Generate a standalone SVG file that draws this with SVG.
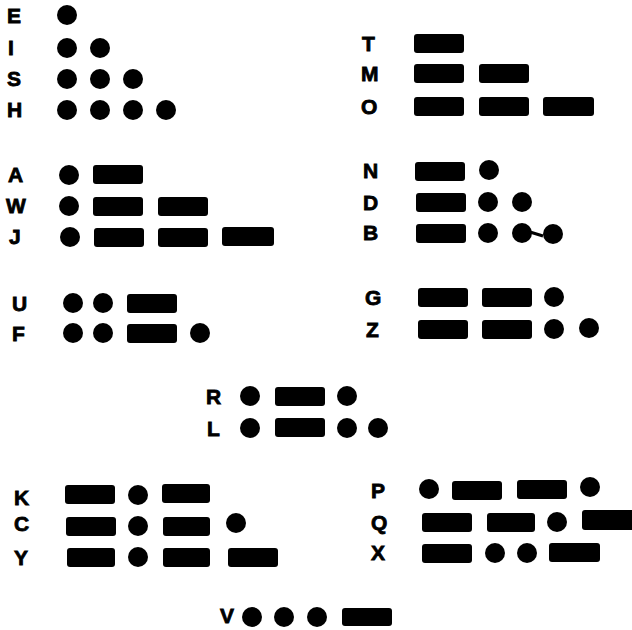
<svg xmlns="http://www.w3.org/2000/svg" width="632" height="630" viewBox="0 0 632 630">
<style>
.lbl{font-family:"Liberation Sans",Arial,sans-serif;font-weight:bold;font-size:21px;fill:#000;stroke:#000;stroke-width:0.8}
</style>
<rect width="632" height="630" fill="#fff"/>
<defs>
<circle id="d" r="10"/>
<rect id="m" width="50" height="19" rx="3"/>
</defs>
<g id="E"><text class="lbl" x="7" y="23">E</text><use href="#d" x="67" y="15"/></g>
<g id="I"><text class="lbl" x="8" y="55">I</text><use href="#d" x="67" y="48"/><use href="#d" x="100" y="48"/></g>
<g id="S"><text class="lbl" x="7" y="86">S</text><use href="#d" x="67" y="79"/><use href="#d" x="100" y="79"/><use href="#d" x="133" y="79"/></g>
<g id="H"><text class="lbl" x="7" y="117">H</text><use href="#d" x="67" y="110"/><use href="#d" x="100" y="110"/><use href="#d" x="133" y="110"/><use href="#d" x="166" y="110"/></g>
<g id="A"><text class="lbl" x="8" y="182">A</text><use href="#d" x="69" y="175"/><use href="#m" x="93" y="165"/></g>
<g id="W"><text class="lbl" x="6" y="213">W</text><use href="#d" x="69" y="206"/><use href="#m" x="93" y="197"/><use href="#m" x="158" y="197"/></g>
<g id="J"><text class="lbl" x="9" y="244">J</text><use href="#d" x="70" y="237"/><use href="#m" x="94" y="228"/><use href="#m" x="158" y="228"/><rect x="222" y="227" width="52" height="19" rx="3"/></g>
<g id="U"><text class="lbl" x="12" y="311">U</text><use href="#d" x="73" y="303"/><use href="#d" x="103" y="303"/><use href="#m" x="127" y="294"/></g>
<g id="F"><text class="lbl" x="12" y="341">F</text><use href="#d" x="73" y="333"/><use href="#d" x="103" y="333"/><use href="#m" x="127" y="324"/><use href="#d" x="200" y="333"/></g>
<g id="T"><text class="lbl" x="362" y="51">T</text><use href="#m" x="414" y="34"/></g>
<g id="M"><text class="lbl" x="361" y="81">M</text><use href="#m" x="414" y="64"/><use href="#m" x="479" y="64"/></g>
<g id="O"><text class="lbl" x="361" y="114">O</text><use href="#m" x="414" y="97"/><use href="#m" x="479" y="97"/><rect x="543" y="97" width="51" height="19" rx="3"/></g>
<g id="N"><text class="lbl" x="363" y="178">N</text><use href="#m" x="415" y="162"/><use href="#d" x="489" y="170"/></g>
<g id="D"><text class="lbl" x="363" y="210">D</text><use href="#m" x="416" y="193"/><use href="#d" x="488" y="202"/><use href="#d" x="522" y="202"/></g>
<g id="B"><text class="lbl" x="363" y="240">B</text><use href="#m" x="416" y="224"/><use href="#d" x="488" y="233"/><use href="#d" x="522" y="233"/><path d="M530 232 L543 236" stroke="#000" stroke-width="3"/><use href="#d" x="553" y="234"/></g>
<g id="G"><text class="lbl" x="365" y="305">G</text><use href="#m" x="418" y="288"/><use href="#m" x="482" y="288"/><use href="#d" x="554" y="297"/></g>
<g id="Z"><text class="lbl" x="366" y="337">Z</text><use href="#m" x="418" y="320"/><use href="#m" x="482" y="320"/><use href="#d" x="554" y="329"/><use href="#d" x="589" y="328"/></g>
<g id="R"><text class="lbl" x="206" y="404">R</text><use href="#d" x="250" y="396"/><use href="#m" x="275" y="387"/><use href="#d" x="347" y="396"/></g>
<g id="L"><text class="lbl" x="207" y="436">L</text><use href="#d" x="250" y="428"/><use href="#m" x="275" y="418"/><use href="#d" x="347" y="428"/><use href="#d" x="378" y="428"/></g>
<g id="K"><text class="lbl" x="14" y="505">K</text><use href="#m" x="65" y="485"/><use href="#d" x="138" y="495"/><rect x="162" y="484" width="48" height="19" rx="3"/></g>
<g id="C"><text class="lbl" x="14" y="531">C</text><use href="#m" x="66" y="517"/><use href="#d" x="138" y="526"/><rect x="163" y="517" width="47" height="19" rx="3"/><use href="#d" x="236" y="523"/></g>
<g id="Y"><text class="lbl" x="14" y="565">Y</text><rect x="67" y="548" width="48" height="19" rx="3"/><use href="#d" x="138" y="557"/><rect x="163" y="548" width="47" height="19" rx="3"/><use href="#m" x="228" y="548"/></g>
<g id="P"><text class="lbl" x="371" y="498">P</text><use href="#d" x="429" y="489"/><use href="#m" x="452" y="481"/><use href="#m" x="517" y="480"/><use href="#d" x="590" y="487"/></g>
<g id="Q"><text class="lbl" x="371" y="530">Q</text><use href="#m" x="422" y="513"/><rect x="487" y="513" width="48" height="19" rx="3"/><use href="#d" x="557" y="522"/><rect x="582" y="510" width="52" height="20" rx="3"/></g>
<g id="X"><text class="lbl" x="371" y="560">X</text><use href="#m" x="422" y="544"/><use href="#d" x="495" y="553"/><use href="#d" x="527" y="553"/><rect x="549" y="543" width="51" height="19" rx="3"/></g>
<g id="V"><text class="lbl" x="220" y="623">V</text><use href="#d" x="252" y="617"/><use href="#d" x="284" y="617"/><use href="#d" x="317" y="617"/><rect x="342" y="608" width="50" height="18" rx="3"/></g>
</svg>
